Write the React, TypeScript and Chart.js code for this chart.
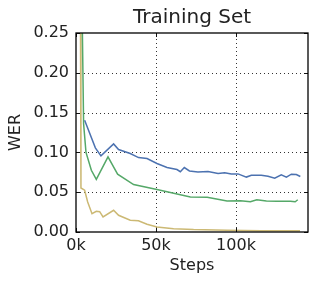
import React, { useEffect, useRef } from "react";
import { Chart, registerables } from "chart.js";

Chart.register(...registerables);

const blueSteps = [5.4, 12.1, 15.6, 23.5, 26.6, 33.9, 39.1, 44.4, 50.6, 56.9, 63.1, 65.2, 67.7, 70.9, 76.2, 82.5, 88.8, 92.9, 97.1, 101.3, 106.5, 109.6, 115.8, 120, 124.2, 128.3, 131.5, 134.6, 137.7, 140.2];
const blueWer = [0.1405, 0.1057, 0.0956, 0.1107, 0.1036, 0.0986, 0.0935, 0.0923, 0.086, 0.081, 0.0785, 0.0758, 0.081, 0.0767, 0.0755, 0.0759, 0.0734, 0.0743, 0.073, 0.073, 0.069, 0.0713, 0.0713, 0.07, 0.0675, 0.0717, 0.069, 0.0726, 0.0722, 0.0697];

const greenSteps = [3.0, 4.75, 6.25, 9.6, 12.7, 20.0, 26.0, 36.0, 50.6, 71.5, 82.0, 94.4, 102.8, 109.0, 113.0, 119.0, 125.6, 134.0, 137.0, 138.6];
const greenWer = [0.40, 0.136, 0.0999, 0.0776, 0.066, 0.0943, 0.0726, 0.0596, 0.0533, 0.044, 0.0437, 0.039, 0.0392, 0.038, 0.0405, 0.039, 0.0387, 0.0387, 0.038, 0.0405];

const yellowSteps = [2.6, 3.1, 5.4, 7.3, 10.0, 12.7, 14.8, 16.9, 23.5, 26.6, 33.9, 39.0, 44.4, 50.6, 61.0, 73.5, 94.4, 115.8, 140.0];
const yellowWer = [0.40, 0.0553, 0.0525, 0.0377, 0.023, 0.026, 0.0255, 0.019, 0.0273, 0.021, 0.0147, 0.014, 0.0097, 0.0063, 0.0042, 0.003, 0.0022, 0.0015, 0.0015];

const yTicks = [0, 0.05, 0.1, 0.15, 0.2, 0.25];
const xTicks = [0, 50000, 100000];

const FONT = "'DejaVu Sans', sans-serif";

const toPoints = (steps: number[], wer: number[]) =>
  steps.map((s, i) => ({ x: s * 1000, y: wer[i] }));

// dotted grid + inward ticks + frame, placed through the chart's own scales
const framePlugin = {
  id: "frame",
  beforeDatasetsDraw(chart: any) {
    const { ctx, chartArea: a, scales } = chart;
    ctx.save();
    ctx.strokeStyle = "rgba(0,0,0,0.8)";
    ctx.lineWidth = 1;
    ctx.setLineDash([1, 3]);
    for (const v of xTicks) {
      const x = Math.round(scales.x.getPixelForValue(v)) + 0.5;
      if (x <= a.left + 1 || x >= a.right - 1) continue;
      ctx.beginPath();
      ctx.moveTo(x, a.bottom);
      ctx.lineTo(x, a.top);
      ctx.stroke();
    }
    for (const v of yTicks) {
      const y = Math.round(scales.y.getPixelForValue(v)) + 0.5;
      if (y <= a.top + 1 || y >= a.bottom - 1) continue;
      ctx.beginPath();
      ctx.moveTo(a.left, y);
      ctx.lineTo(a.right, y);
      ctx.stroke();
    }
    ctx.restore();
  },
  afterDraw(chart: any) {
    const { ctx, chartArea: a, scales } = chart;
    ctx.save();
    ctx.strokeStyle = "#111";
    ctx.lineWidth = 1;
    const L = 4;
    for (const v of xTicks) {
      const x = Math.round(scales.x.getPixelForValue(v)) + 0.5;
      ctx.beginPath();
      ctx.moveTo(x, a.bottom);
      ctx.lineTo(x, a.bottom - L);
      ctx.moveTo(x, a.top);
      ctx.lineTo(x, a.top + L);
      ctx.stroke();
    }
    for (const v of yTicks) {
      const y = Math.round(scales.y.getPixelForValue(v)) + 0.5;
      ctx.beginPath();
      ctx.moveTo(a.left, y);
      ctx.lineTo(a.left + L, y);
      ctx.moveTo(a.right, y);
      ctx.lineTo(a.right - L, y);
      ctx.stroke();
    }
    ctx.strokeStyle = "#000";
    ctx.lineWidth = 1.3;
    ctx.strokeRect(a.left, a.top, a.right - a.left, a.bottom - a.top);
    ctx.restore();
  },
};

export default function App() {
  const ref = useRef<HTMLCanvasElement | null>(null);
  useEffect(() => {
    if (!ref.current) return;
    const mk = (label: string, data: any[], color: string) => ({
      label,
      data,
      borderColor: color,
      backgroundColor: color,
      borderWidth: 1.5,
      pointRadius: 0,
      tension: 0,
      fill: false,
    });
    const chart = new Chart(ref.current, {
      type: "line",
      data: {
        datasets: [
          mk("blue", toPoints(blueSteps, blueWer), "#4C72B0"),
          mk("green", toPoints(greenSteps, greenWer), "#55A868"),
          mk("yellow", toPoints(yellowSteps, yellowWer), "#CCB974"),
        ],
      },
      options: {
        animation: false,
        responsive: false,
        layout: { padding: { left: 0, right: 9, top: 0, bottom: 0 } },
        plugins: {
          legend: { display: false },
          tooltip: { enabled: false },
          title: {
            display: true,
            text: "Training Set",
            color: "#222",
            font: { family: FONT, size: 20, weight: "normal" },
            padding: { top: 6, bottom: 3 },
            fullSize: false,
          } as any,
        },
        scales: {
          x: {
            type: "linear",
            min: 0,
            max: 145000,
            afterBuildTicks: (s: any) => {
              s.ticks = xTicks.map((v) => ({ value: v }));
            },
            afterFit: (s: any) => {
              s.height = 52;
            },
            ticks: {
              color: "#222",
              font: { family: FONT, size: 16 },
              padding: 4,
              maxRotation: 0,
              callback: (v: any) => `${Math.round(Number(v) / 1000)}k`,
            },
            grid: { display: false, drawTicks: false },
            border: { display: false },
            title: {
              display: true,
              text: "Steps",
              color: "#222",
              font: { family: FONT, size: 16 },
              padding: { top: 0, bottom: 9 },
            },
          },
          y: {
            type: "linear",
            min: 0,
            max: 0.25,
            afterBuildTicks: (s: any) => {
              s.ticks = yTicks.map((v) => ({ value: v }));
            },
            afterFit: (s: any) => {
              s.width = 76;
            },
            ticks: {
              color: "#222",
              font: { family: FONT, size: 16 },
              padding: 7,
              callback: (v: any) => Number(v).toFixed(2),
            },
            grid: { display: false, drawTicks: false },
            border: { display: false },
            title: {
              display: true,
              text: "WER",
              color: "#222",
              font: { family: FONT, size: 16 },
              padding: { top: 6, bottom: 0 },
            },
          },
        },
      },
      plugins: [framePlugin],
    });
    return () => chart.destroy();
  }, []);
  return (
    <div style={{ position: "absolute", left: 0, top: 0, width: 317, height: 284, background: "#fff" }}>
      <canvas ref={ref} width={317} height={284} style={{ width: 317, height: 284 }} />
    </div>
  );
}
